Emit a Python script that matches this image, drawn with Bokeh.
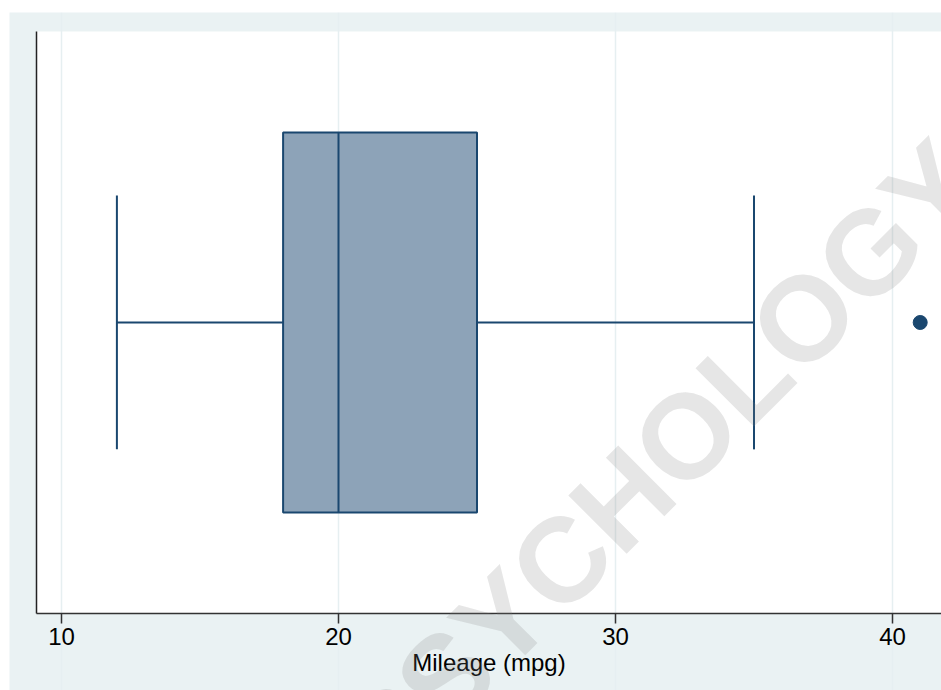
import math
from bokeh.plotting import figure
from bokeh.models import Label, Range1d, FixedTicker, Spacer, ColumnDataSource, BoxAnnotation
from bokeh.layouts import column, row
from bokeh.embed import file_html
from bokeh.resources import INLINE

# ---- data (Mileage, mpg) ----
variable = ["Mileage (mpg)"]
lower_whisker = [12]
q1 = [18]
median = [20]
q3 = [25]
upper_whisker = [35]
outliers = [41]
x_ticks = [10, 20, 30, 40]

NAVY = "#1A476F"
FILL = "#8DA3B8"
BG = "#EAF2F3"
GRID = "#E6EFF1"
FONT = "Liberation Sans"

# layout geometry (pixels / data units)
PLOT_LEFT = 9.0975          # x value at the left axis line
X_START, X_END = 8.1227, 41.769
Y_START, Y_END = -0.1323, 1.0326

fig = figure(width=932, height=678, output_backend="svg", toolbar_location=None,
             x_range=Range1d(X_START, X_END), y_range=Range1d(Y_START, Y_END),
             min_border_left=0, min_border_right=0, min_border_top=0,
             min_border_bottom=0)
fig.background_fill_color = BG
fig.border_fill_color = BG
fig.outline_line_color = None

# white plot region
fig.add_layout(BoxAnnotation(left=PLOT_LEFT, bottom=0, top=1, fill_color="white",
                             fill_alpha=1.0, line_color=None, level="image"))

# x axis (drawn at y = 0)
xa = fig.xaxis[0]
xa.fixed_location = 0
xa.bounds = (PLOT_LEFT, X_END)
xa.ticker = FixedTicker(ticks=x_ticks)
xa.axis_label = variable[0]
xa.axis_label_text_font = FONT
xa.axis_label_text_font_style = "normal"
xa.axis_label_text_font_size = "24px"
xa.axis_label_text_color = "black"
xa.axis_label_standoff = 0
xa.major_label_text_font = FONT
xa.major_label_text_font_size = "24px"
xa.major_label_text_color = "black"
xa.major_label_standoff = 5
xa.major_tick_out = 10
xa.major_tick_in = 0
xa.minor_tick_line_color = None
xa.major_tick_line_color = "#333333"
xa.major_tick_line_width = 1.5
xa.axis_line_color = "#333333"
xa.axis_line_width = 1.5

# y axis: plain line at the left edge of the plot region
ya = fig.yaxis[0]
ya.fixed_location = PLOT_LEFT
ya.bounds = (0, 1)
ya.ticker = FixedTicker(ticks=[])
ya.major_tick_line_color = None
ya.minor_tick_line_color = None
ya.major_label_text_font_size = "0px"
ya.axis_line_color = "#222222"
ya.axis_line_width = 1.5

fig.xgrid.ticker = FixedTicker(ticks=x_ticks)
fig.xgrid.grid_line_color = GRID
fig.xgrid.grid_line_width = 1.5
fig.ygrid.grid_line_color = None

ypos = 0.5
box_h = 0.653
cap_h = 0.436

src = ColumnDataSource(dict(y=[ypos] * len(q1), q1=q1, q3=q3, med=median,
                            lo=lower_whisker, hi=upper_whisker,
                            y0=[ypos - box_h / 2] * len(q1), y1=[ypos + box_h / 2] * len(q1),
                            c0=[ypos - cap_h / 2] * len(q1), c1=[ypos + cap_h / 2] * len(q1)))

# whiskers
fig.segment(x0="lo", y0="y", x1="q1", y1="y", source=src, line_color=NAVY, line_width=2)
fig.segment(x0="q3", y0="y", x1="hi", y1="y", source=src, line_color=NAVY, line_width=2)
fig.segment(x0="lo", y0="c0", x1="lo", y1="c1", source=src, line_color=NAVY, line_width=2)
fig.segment(x0="hi", y0="c0", x1="hi", y1="c1", source=src, line_color=NAVY, line_width=2)
# box
fig.quad(left="q1", right="q3", bottom="y0", top="y1", source=src,
         fill_color=FILL, line_color=NAVY, line_width=2)
# median
fig.segment(x0="med", y0="y0", x1="med", y1="y1", source=src, line_color=NAVY, line_width=2)
# outliers
fig.scatter(x=outliers, y=[ypos] * len(outliers), size=14, fill_color=NAVY, line_color=NAVY)

# watermark
wm = Label(x=31.59, y=0.261, text="PSYCHOLOGY", angle=math.pi / 4,
           text_font=FONT, text_font_style="bold", text_font_size="120px",
           text_color="#808080", text_alpha=0.2, text_align="center",
           text_baseline="middle", level="overlay")
fig.add_layout(wm)

p = row(Spacer(width=9, height=690), column(Spacer(width=932, height=12), fig))

open("out.html", "w").write(file_html(p, INLINE))
